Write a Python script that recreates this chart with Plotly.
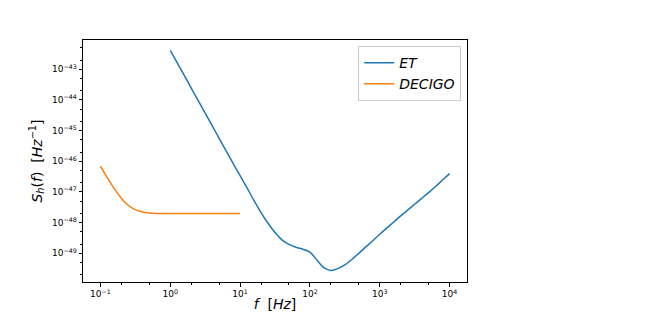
import plotly.graph_objects as go

# ET sensitivity curve (frequency in Hz, strain PSD in 1/Hz)
et_f = [1.0, 1.259, 1.585, 1.995, 2.512, 3.162, 3.981, 5.012, 6.310, 7.943,
        10.0, 12.59, 15.85, 19.95, 25.12, 31.62, 39.81, 50.12, 63.10, 79.43,
        100.0, 125.9, 158.5, 199.5, 251.2, 316.2, 398.1, 501.2, 631.0, 794.3,
        1000.0, 1259.0, 1585.0, 1995.0, 2512.0, 3162.0, 3981.0, 5012.0, 6310.0, 7943.0,
        10000.0]
et_s = [4.17e-43, 1.62e-43, 6.31e-44, 2.45e-44, 9.55e-45, 3.72e-45, 1.45e-45, 5.62e-46, 2.19e-46, 8.51e-47,
        3.39e-47, 1.35e-47, 5.25e-48, 2.14e-48, 9.55e-49, 4.79e-49, 2.75e-49, 1.95e-49, 1.58e-49, 1.35e-49,
        1.10e-49, 6.03e-50, 3.39e-50, 2.75e-50, 3.16e-50, 4.17e-50, 6.31e-50, 1.00e-49, 1.62e-49, 2.57e-49,
        4.17e-49, 6.61e-49, 1.05e-48, 1.66e-48, 2.57e-48, 3.98e-48, 6.17e-48, 9.55e-48, 1.51e-47, 2.45e-47,
        3.98e-47]

# DECIGO sensitivity curve
de_f = [0.1, 0.12, 0.15, 0.2, 0.25, 0.3, 0.4, 0.5, 0.7, 1.0, 2.0, 5.0, 10.0]
de_s = [6.9e-47, 3.44e-47, 1.52e-47, 6.16e-48, 3.68e-48, 2.80e-48, 2.23e-48,
        2.08e-48, 2.00e-48, 1.98e-48, 1.97e-48, 1.97e-48, 1.97e-48]

x_tickvals = [0.1, 1, 10, 100, 1000, 10000]
x_ticktext = ["10<sup>−1</sup>", "10<sup>0</sup>", "10<sup>1</sup>",
              "10<sup>2</sup>", "10<sup>3</sup>", "10<sup>4</sup>"]
y_tickvals = [1e-49, 1e-48, 1e-47, 1e-46, 1e-45, 1e-44, 1e-43]
y_ticktext = ["10<sup>−49</sup>", "10<sup>−48</sup>", "10<sup>−47</sup>",
              "10<sup>−46</sup>", "10<sup>−45</sup>", "10<sup>−44</sup>",
              "10<sup>−43</sup>"]

fig = go.Figure()
fig.add_trace(go.Scatter(x=et_f, y=et_s, mode="lines", name="<i>ET</i>",
                         line=dict(color="#1f77b4", width=1.5, shape="spline", smoothing=0.8)))
fig.add_trace(go.Scatter(x=de_f, y=de_s, mode="lines", name="<i>DECIGO</i>",
                         line=dict(color="#ff7f0e", width=1.5, shape="spline")))

axis_common = dict(showline=True, linecolor="black", linewidth=1, mirror=True,
                   ticks="outside", ticklen=3.5, tickcolor="black", showgrid=False,
                   zeroline=False, tickfont=dict(family="DejaVu Sans", size=9, color="black"),
                   minor=dict(ticks="outside", ticklen=2, tickcolor="black", showgrid=False))

fig.update_xaxes(type="log", range=[-1.25, 4.25], tickvals=x_tickvals, ticktext=x_ticktext,
                 title=dict(text="<i>f</i>  [<i>Hz</i>]", font=dict(family="DejaVu Sans", size=14, color="black"), standoff=0),
                 **axis_common)
fig.update_yaxes(type="log", range=[-49.935, -42.045], tickvals=y_tickvals, ticktext=y_ticktext,
                 title=dict(text="<i>S<sub>h</sub></i>(<i>f</i>)  [<i>Hz</i><sup>−1</sup>]", font=dict(family="DejaVu Sans", size=14, color="black"), standoff=6),
                 **axis_common)

fig.update_layout(
    width=656, height=324,
    margin=dict(l=75, r=197, t=32, b=50),
    paper_bgcolor="white", plot_bgcolor="white",
    showlegend=True,
    legend=dict(x=0.985, y=0.975, xanchor="right", yanchor="top",
                bgcolor="rgba(255,255,255,0.8)", bordercolor="#cccccc", borderwidth=1,
                font=dict(family="DejaVu Sans", size=14, color="black"),
                itemwidth=30, tracegroupgap=0),
)

fig.write_html("out.html")
